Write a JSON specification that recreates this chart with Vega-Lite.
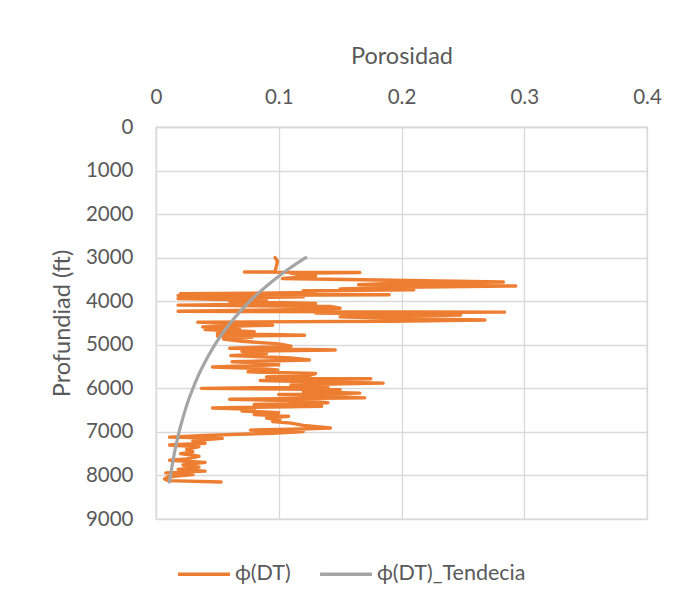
{
  "$schema": "https://vega.github.io/schema/vega-lite/v6.json",
  "width": 491,
  "height": 392,
  "autosize": {"type": "none"},
  "padding": {"left": 156, "top": 127, "right": 34, "bottom": 87},
  "background": "white",
  "config": {
    "font": "Lato",
    "view": {"stroke": "#d9d9d9", "strokeWidth": 1.3},
    "axis": {
      "domainColor": "#d9d9d9",
      "domainWidth": 1.3,
      "gridColor": "#d9d9d9",
      "gridWidth": 1.3,
      "ticks": false,
      "labelColor": "#595959",
      "labelFontSize": 20.5,
      "labelFont": "Lato",
      "titleColor": "#595959",
      "titleFontSize": 23.5,
      "titleFontWeight": "normal",
      "titleFont": "Lato"
    },
    "legend": {
      "labelColor": "#595959",
      "labelFontSize": 21.5,
      "labelFont": "Lato"
    }
  },
  "datasets": {
    "registro": [
      {"profundidad": 3000, "porosidad": 0.097},
      {"profundidad": 3080, "porosidad": 0.099},
      {"profundidad": 3320, "porosidad": 0.097},
      {"profundidad": 3330, "porosidad": 0.072},
      {"profundidad": 3340, "porosidad": 0.166},
      {"profundidad": 3360, "porosidad": 0.110},
      {"profundidad": 3420, "porosidad": 0.130},
      {"profundidad": 3480, "porosidad": 0.103},
      {"profundidad": 3560, "porosidad": 0.283},
      {"profundidad": 3580, "porosidad": 0.200},
      {"profundidad": 3620, "porosidad": 0.165},
      {"profundidad": 3650, "porosidad": 0.293},
      {"profundidad": 3680, "porosidad": 0.200},
      {"profundidad": 3720, "porosidad": 0.150},
      {"profundidad": 3740, "porosidad": 0.210},
      {"profundidad": 3760, "porosidad": 0.120},
      {"profundidad": 3800, "porosidad": 0.130},
      {"profundidad": 3830, "porosidad": 0.020},
      {"profundidad": 3850, "porosidad": 0.190},
      {"profundidad": 3870, "porosidad": 0.018},
      {"profundidad": 3900, "porosidad": 0.120},
      {"profundidad": 3940, "porosidad": 0.018},
      {"profundidad": 3980, "porosidad": 0.090},
      {"profundidad": 4000, "porosidad": 0.060},
      {"profundidad": 4050, "porosidad": 0.130},
      {"profundidad": 4090, "porosidad": 0.018},
      {"profundidad": 4120, "porosidad": 0.142},
      {"profundidad": 4160, "porosidad": 0.150},
      {"profundidad": 4200, "porosidad": 0.100},
      {"profundidad": 4230, "porosidad": 0.018},
      {"profundidad": 4250, "porosidad": 0.284},
      {"profundidad": 4270, "porosidad": 0.130},
      {"profundidad": 4300, "porosidad": 0.200},
      {"profundidad": 4320, "porosidad": 0.248},
      {"profundidad": 4360, "porosidad": 0.150},
      {"profundidad": 4400, "porosidad": 0.200},
      {"profundidad": 4430, "porosidad": 0.268},
      {"profundidad": 4460, "porosidad": 0.190},
      {"profundidad": 4480, "porosidad": 0.034},
      {"profundidad": 4520, "porosidad": 0.060},
      {"profundidad": 4550, "porosidad": 0.095},
      {"profundidad": 4590, "porosidad": 0.038},
      {"profundidad": 4620, "porosidad": 0.068},
      {"profundidad": 4650, "porosidad": 0.040},
      {"profundidad": 4700, "porosidad": 0.080},
      {"profundidad": 4740, "porosidad": 0.050},
      {"profundidad": 4780, "porosidad": 0.121},
      {"profundidad": 4800, "porosidad": 0.050},
      {"profundidad": 4830, "porosidad": 0.078},
      {"profundidad": 4870, "porosidad": 0.055},
      {"profundidad": 4920, "porosidad": 0.070},
      {"profundidad": 4980, "porosidad": 0.100},
      {"profundidad": 5030, "porosidad": 0.110},
      {"profundidad": 5080, "porosidad": 0.060},
      {"profundidad": 5120, "porosidad": 0.146},
      {"profundidad": 5150, "porosidad": 0.070},
      {"profundidad": 5200, "porosidad": 0.090},
      {"profundidad": 5250, "porosidad": 0.061},
      {"profundidad": 5300, "porosidad": 0.110},
      {"profundidad": 5350, "porosidad": 0.125},
      {"profundidad": 5390, "porosidad": 0.062},
      {"profundidad": 5420, "porosidad": 0.085},
      {"profundidad": 5460, "porosidad": 0.100},
      {"profundidad": 5510, "porosidad": 0.046},
      {"profundidad": 5540, "porosidad": 0.080},
      {"profundidad": 5580, "porosidad": 0.099},
      {"profundidad": 5620, "porosidad": 0.075},
      {"profundidad": 5660, "porosidad": 0.130},
      {"profundidad": 5700, "porosidad": 0.125},
      {"profundidad": 5740, "porosidad": 0.090},
      {"profundidad": 5780, "porosidad": 0.175},
      {"profundidad": 5820, "porosidad": 0.085},
      {"profundidad": 5860, "porosidad": 0.150},
      {"profundidad": 5880, "porosidad": 0.185},
      {"profundidad": 5920, "porosidad": 0.110},
      {"profundidad": 5960, "porosidad": 0.140},
      {"profundidad": 6000, "porosidad": 0.037},
      {"profundidad": 6030, "porosidad": 0.150},
      {"profundidad": 6070, "porosidad": 0.120},
      {"profundidad": 6110, "porosidad": 0.166},
      {"profundidad": 6140, "porosidad": 0.100},
      {"profundidad": 6180, "porosidad": 0.140},
      {"profundidad": 6220, "porosidad": 0.170},
      {"profundidad": 6250, "porosidad": 0.060},
      {"profundidad": 6290, "porosidad": 0.120},
      {"profundidad": 6330, "porosidad": 0.140},
      {"profundidad": 6370, "porosidad": 0.080},
      {"profundidad": 6410, "porosidad": 0.135},
      {"profundidad": 6450, "porosidad": 0.046},
      {"profundidad": 6480, "porosidad": 0.080},
      {"profundidad": 6520, "porosidad": 0.070},
      {"profundidad": 6560, "porosidad": 0.100},
      {"profundidad": 6600, "porosidad": 0.080},
      {"profundidad": 6640, "porosidad": 0.108},
      {"profundidad": 6680, "porosidad": 0.090},
      {"profundidad": 6720, "porosidad": 0.101},
      {"profundidad": 6760, "porosidad": 0.095},
      {"profundidad": 6800, "porosidad": 0.110},
      {"profundidad": 6850, "porosidad": 0.120},
      {"profundidad": 6910, "porosidad": 0.142},
      {"profundidad": 6940, "porosidad": 0.110},
      {"profundidad": 6960, "porosidad": 0.077},
      {"profundidad": 6990, "porosidad": 0.120},
      {"profundidad": 7030, "porosidad": 0.095},
      {"profundidad": 7080, "porosidad": 0.040},
      {"profundidad": 7120, "porosidad": 0.011},
      {"profundidad": 7150, "porosidad": 0.054},
      {"profundidad": 7200, "porosidad": 0.030},
      {"profundidad": 7260, "porosidad": 0.040},
      {"profundidad": 7300, "porosidad": 0.011},
      {"profundidad": 7340, "porosidad": 0.035},
      {"profundidad": 7400, "porosidad": 0.025},
      {"profundidad": 7460, "porosidad": 0.030},
      {"profundidad": 7500, "porosidad": 0.020},
      {"profundidad": 7560, "porosidad": 0.035},
      {"profundidad": 7620, "porosidad": 0.025},
      {"profundidad": 7650, "porosidad": 0.011},
      {"profundidad": 7700, "porosidad": 0.040},
      {"profundidad": 7760, "porosidad": 0.022},
      {"profundidad": 7810, "porosidad": 0.035},
      {"profundidad": 7860, "porosidad": 0.018},
      {"profundidad": 7900, "porosidad": 0.040},
      {"profundidad": 7940, "porosidad": 0.008},
      {"profundidad": 7980, "porosidad": 0.030},
      {"profundidad": 8030, "porosidad": 0.010},
      {"profundidad": 8080, "porosidad": 0.007},
      {"profundidad": 8120, "porosidad": 0.010},
      {"profundidad": 8150, "porosidad": 0.053}
    ],
    "tendencia": [
      {"profundidad": 3000, "porosidad": 0.1220},
      {"profundidad": 3250, "porosidad": 0.1086},
      {"profundidad": 3500, "porosidad": 0.0966},
      {"profundidad": 3750, "porosidad": 0.0860},
      {"profundidad": 4000, "porosidad": 0.0765},
      {"profundidad": 4250, "porosidad": 0.0681},
      {"profundidad": 4500, "porosidad": 0.0606},
      {"profundidad": 4750, "porosidad": 0.0539},
      {"profundidad": 5000, "porosidad": 0.0479},
      {"profundidad": 5250, "porosidad": 0.0427},
      {"profundidad": 5500, "porosidad": 0.0380},
      {"profundidad": 5750, "porosidad": 0.0338},
      {"profundidad": 6000, "porosidad": 0.0301},
      {"profundidad": 6250, "porosidad": 0.0267},
      {"profundidad": 6500, "porosidad": 0.0238},
      {"profundidad": 6750, "porosidad": 0.0212},
      {"profundidad": 7000, "porosidad": 0.0188},
      {"profundidad": 7250, "porosidad": 0.0168},
      {"profundidad": 7500, "porosidad": 0.0149},
      {"profundidad": 7750, "porosidad": 0.0133},
      {"profundidad": 8000, "porosidad": 0.0118},
      {"profundidad": 8150, "porosidad": 0.0110}
    ]
  },
  "encoding": {
    "x": {
      "field": "porosidad",
      "type": "quantitative",
      "scale": {"domain": [0, 0.4], "nice": false, "zero": false},
      "axis": {
        "orient": "top",
        "title": "Porosidad",
        "values": [0, 0.1, 0.2, 0.3, 0.4],
        "format": ".1~f",
        "labelPadding": 20,
        "titlePadding": 19,
        "labelFlush": false
      }
    },
    "y": {
      "field": "profundidad",
      "type": "quantitative",
      "scale": {"domain": [0, 9000], "reverse": true, "nice": false},
      "axis": {
        "title": "Profundiad (ft)",
        "values": [0, 1000, 2000, 3000, 4000, 5000, 6000, 7000, 8000, 9000],
        "format": "d",
        "labelPadding": 23,
        "titlePadding": 11,
        "labelFlush": false
      }
    },
    "order": {"field": "profundidad", "type": "quantitative"}
  },
  "layer": [
    {
      "data": {"name": "registro"},
      "mark": {"type": "line", "strokeWidth": 3.4, "strokeJoin": "round", "strokeCap": "round"},
      "encoding": {
        "color": {
          "datum": "ϕ(DT)",
          "type": "nominal",
          "scale": {"domain": ["ϕ(DT)", "ϕ(DT)_Tendecia"], "range": ["#ED7D31", "#A5A5A5"]},
          "legend": {
            "title": null,
            "orient": "none",
            "direction": "horizontal",
            "legendX": 20,
            "legendY": 419,
            "symbolType": "stroke",
            "symbolSize": 2700,
            "symbolStrokeWidth": 3.5,
            "labelOffset": 3,
            "columnPadding": 22
          }
        }
      }
    },
    {
      "data": {"name": "tendencia"},
      "mark": {"type": "line", "strokeWidth": 3.2, "strokeCap": "round", "interpolate": "monotone"},
      "encoding": {
        "color": {"datum": "ϕ(DT)_Tendecia", "type": "nominal"}
      }
    }
  ]
}
